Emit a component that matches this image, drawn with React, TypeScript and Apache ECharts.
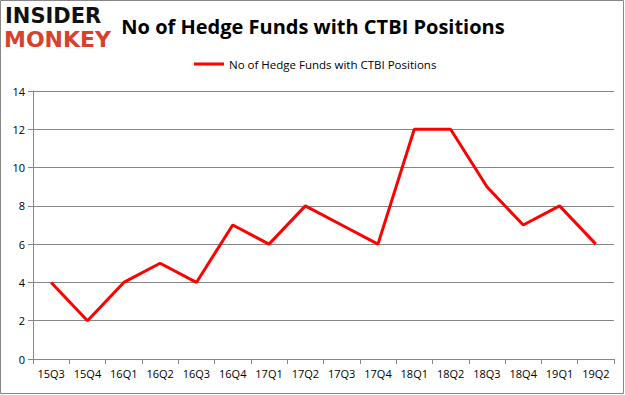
import React, { useEffect, useRef } from "react";
import * as echarts from "echarts";

const categories = ["15Q3","15Q4","16Q1","16Q2","16Q3","16Q4","17Q1","17Q2","17Q3","17Q4","18Q1","18Q2","18Q3","18Q4","19Q1","19Q2"];
const values = [4,2,4,5,4,7,6,8,7,6,12,12,9,7,8,6];
const seriesName = "No of Hedge Funds with CTBI Positions";
const titleText = "No of Hedge Funds with CTBI Positions";

export default function App() {
  const ref = useRef<HTMLDivElement>(null);
  useEffect(() => {
    const chart = echarts.init(ref.current!, null, { renderer: "svg" });
    chart.setOption({
      animation: false,
      backgroundColor: "#fff",
      title: {
        text: titleText,
        left: 308,
        textAlign: "center",
        top: 11,
        textStyle: { fontFamily: "Open Sans", fontWeight: "bold", fontSize: 20, color: "#000" },
      },
      legend: {
        top: 53,
        left: 189,
        itemWidth: 30,
        itemHeight: 3,
        itemGap: 4,
        icon: "rect",
        textStyle: { fontFamily: "Open Sans", fontSize: 11.5, color: "#000" },
        data: [seriesName],
      },
      grid: { left: 33, right: 11, top: 91, bottom: 36 },
      xAxis: {
        type: "category",
        data: categories,
        boundaryGap: true,
        axisLine: { lineStyle: { color: "#868686" } },
        axisTick: { show: true, alignWithLabel: false, length: 5, lineStyle: { color: "#868686" } },
        axisLabel: { color: "#000", fontFamily: "Open Sans", fontSize: 11, margin: 9, interval: 0 },
      },
      yAxis: {
        type: "value",
        min: 0,
        max: 14,
        interval: 2,
        axisLine: { show: true, lineStyle: { color: "#868686" } },
        axisTick: { show: true, length: 5, lineStyle: { color: "#868686" } },
        splitLine: { lineStyle: { color: "#868686" } },
        axisLabel: { color: "#000", fontFamily: "Open Sans", fontSize: 11, margin: 8 },
      },
      series: [
        {
          name: seriesName,
          type: "line",
          data: values,
          symbol: "none",
          lineStyle: { color: "#ff0000", width: 3 },
          itemStyle: { color: "#ff0000" },
        },
      ],
      graphic: [
        {
          type: "rect",
          shape: { x: 0.5, y: 0.5, width: 623, height: 393 },
          style: { fill: "none", stroke: "#888", lineWidth: 1 },
          silent: true,
        },
        {
          type: "text",
          left: 5,
          top: 5,
          style: { text: "INSIDER", fontFamily: "DejaVu Sans", fontWeight: "bold", fontSize: 21, lineHeight: 22, fill: "#111" },
        },
        {
          type: "text",
          left: 4,
          top: 28,
          style: { text: "MONKEY", fontFamily: "DejaVu Sans", fontWeight: "bold", fontSize: 22, lineHeight: 22, fill: "#d9412b" },
        },
      ],
    });
    return () => chart.dispose();
  }, []);
  return <div ref={ref} style={{ width: 625, height: 395, position: "absolute", left: 0, top: 0 }} />;
}
